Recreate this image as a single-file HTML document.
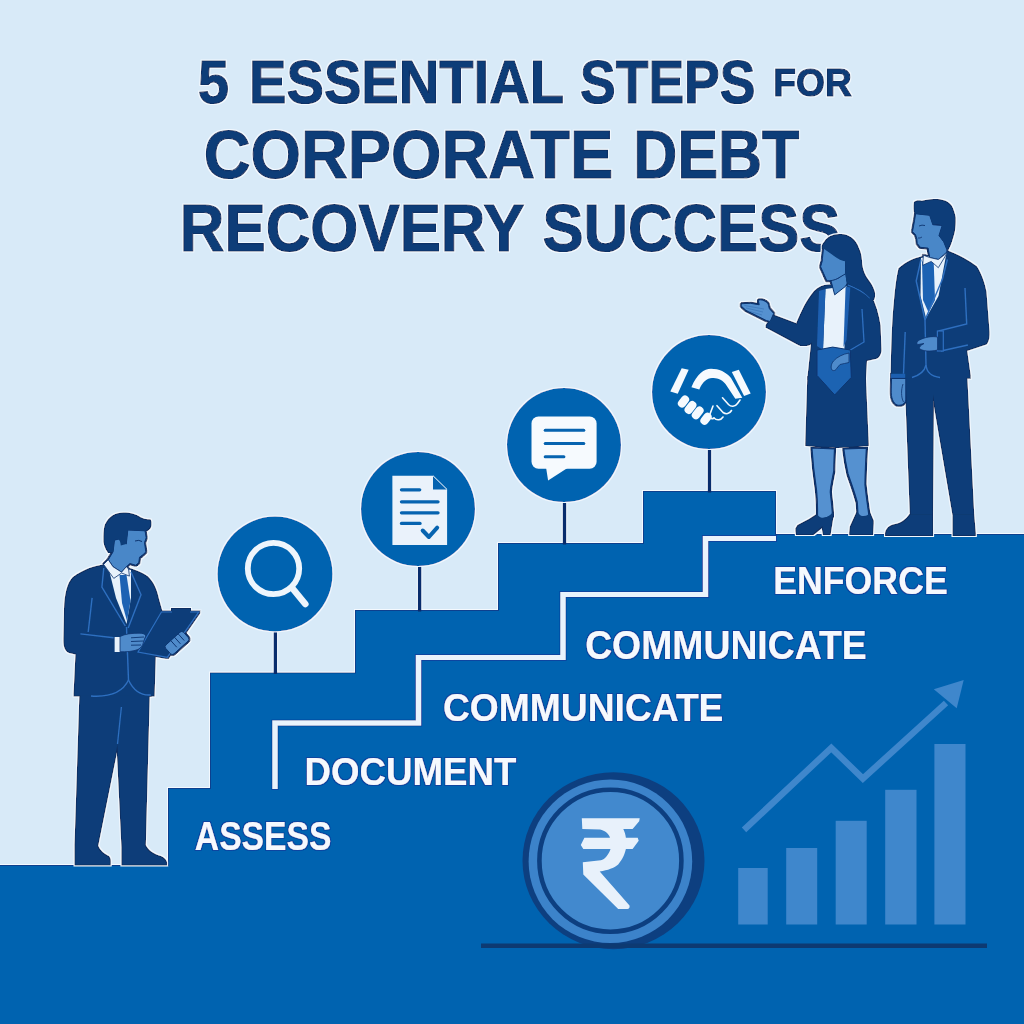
<!DOCTYPE html>
<html><head><meta charset="utf-8">
<style>
html,body{margin:0;padding:0;background:#d8eaf8;}
body{width:1024px;height:1024px;overflow:hidden;position:relative;}
svg{position:absolute;left:0;top:0;display:block;}
text{font-family:"Liberation Sans",sans-serif;font-weight:bold;}
</style></head>
<body>
<svg width="1024" height="1024" viewBox="0 0 1024 1024">
<defs>
<filter id="halo" x="-20%" y="-20%" width="140%" height="140%">
<feMorphology in="SourceAlpha" operator="dilate" radius="1.7" result="d1"/>
<feFlood flood-color="#f2f8fe" result="f1"/>
<feComposite in="f1" in2="d1" operator="in" result="w"/>
<feMorphology in="SourceAlpha" operator="dilate" radius="0.6" result="d2"/>
<feFlood flood-color="#0a2e62" result="f2"/>
<feComposite in="f2" in2="d2" operator="in" result="k"/>
<feMerge><feMergeNode in="w"/><feMergeNode in="k"/><feMergeNode in="SourceGraphic"/></feMerge>
</filter>
<filter id="halo2" x="-20%" y="-20%" width="140%" height="140%">
<feMorphology in="SourceAlpha" operator="dilate" radius="1.2" result="d1"/>
<feFlood flood-color="#f2f8fe" result="f1"/>
<feComposite in="f1" in2="d1" operator="in" result="w"/>
<feMerge><feMergeNode in="w"/><feMergeNode in="SourceGraphic"/></feMerge>
</filter>
<filter id="halo3" x="-5%" y="-5%" width="110%" height="110%">
<feMorphology in="SourceAlpha" operator="dilate" radius="1.4" result="d1"/>
<feFlood flood-color="#f4f9fe" result="f1"/>
<feComposite in="f1" in2="d1" operator="in" result="w"/>
<feMorphology in="SourceAlpha" operator="erode" radius="0.8" result="e1"/>
<feFlood flood-color="#0a3f8e" result="f2"/>
<feComposite in="f2" in2="SourceAlpha" operator="in" result="k"/>
<feComposite in="SourceGraphic" in2="e1" operator="in" result="inner"/>
<feMerge><feMergeNode in="w"/><feMergeNode in="k"/><feMergeNode in="inner"/></feMerge>
</filter>
<filter id="edge" x="-5%" y="-20%" width="110%" height="140%">
<feMorphology in="SourceAlpha" operator="dilate" radius="0.9" result="d1"/>
<feFlood flood-color="#0845a0" result="f1"/>
<feComposite in="f1" in2="d1" operator="in" result="k"/>
<feMerge><feMergeNode in="k"/><feMergeNode in="SourceGraphic"/></feMerge>
</filter>
</defs>
<rect x="0" y="0" width="1024" height="1024" fill="#d8eaf8"/>

<!-- TITLE -->
<g fill="#0e3c78" stroke="#0a3166" stroke-width="1.2" stroke-linejoin="miter" filter="url(#halo2)">
<text id="w1" x="198.00" y="102.9" font-size="60.3" textLength="31.00" lengthAdjust="spacingAndGlyphs">5</text>
<text id="w2" x="249.00" y="102.9" font-size="60.3" textLength="315.00" lengthAdjust="spacingAndGlyphs">ESSENTIAL</text>
<text id="w3" x="580.00" y="102.9" font-size="60.3" textLength="175.50" lengthAdjust="spacingAndGlyphs">STEPS</text>
<text id="w4" x="773.25" y="96.3" font-size="39.1" textLength="78.50" lengthAdjust="spacingAndGlyphs">FOR</text>
<text id="w5" x="203.80" y="178.1" font-size="68.3" textLength="409.40" lengthAdjust="spacingAndGlyphs">CORPORATE</text>
<text id="w6" x="633.35" y="178.1" font-size="68.3" textLength="166.00" lengthAdjust="spacingAndGlyphs">DEBT</text>
<text id="w7" x="179.80" y="250.9" font-size="67.4" textLength="344.65" lengthAdjust="spacingAndGlyphs">RECOVERY</text>
<text id="w8" x="542.50" y="250.9" font-size="67.4" textLength="297.90" lengthAdjust="spacingAndGlyphs">SUCCESS</text>
</g>

<!-- STAIRS -->
<path d="M-10,865 H168 V788 H210 V672.5 H355 V610 H498 V543 H643 V491 H776 V534 H1034 V1034 H-10 Z" fill="#0663b0" filter="url(#halo3)"/>
<path d="M275,789 V723 H418.5 V657.5 H563 V594.5 H705.5 V538.5 H776" fill="none" stroke="#e9f3fc" stroke-width="5.2" filter="url(#edge)"/>

<!-- STEMS -->
<g stroke="#f4f9fe" stroke-width="5.5">
<line x1="275.4" y1="625" x2="275.4" y2="671.5"/>
<line x1="419.6" y1="560" x2="419.6" y2="609"/>
<line x1="564.5" y1="496" x2="564.5" y2="542"/>
<line x1="709.5" y1="443" x2="709.5" y2="490"/>
</g>
<g stroke="#082c6c" stroke-width="3.3">
<line x1="275.4" y1="625" x2="275.4" y2="674"/>
<line x1="419.6" y1="560" x2="419.6" y2="611.5"/>
<line x1="564.5" y1="496" x2="564.5" y2="544.5"/>
<line x1="709.5" y1="443" x2="709.5" y2="492.5"/>
</g>

<!-- CIRCLES -->
<g fill="#0663b0" filter="url(#halo2)">
<circle cx="275" cy="574" r="57.5"/>
<circle cx="418" cy="509" r="57"/>
<circle cx="564" cy="445" r="57"/>
<circle cx="709" cy="392" r="57"/>
</g>

<!-- LABELS -->
<g fill="#f5f9fe" filter="url(#edge)">
<text id="l1" x="194.85" y="849.8" font-size="41.1" textLength="136.55" lengthAdjust="spacingAndGlyphs">ASSESS</text>
<text id="l2" x="304.55" y="785" font-size="38.9" textLength="211.90" lengthAdjust="spacingAndGlyphs">DOCUMENT</text>
<text id="l3" x="443.00" y="720.9" font-size="38.4" textLength="280.45" lengthAdjust="spacingAndGlyphs">COMMUNICATE</text>
<text id="l4" x="585.15" y="658.8" font-size="41.1" textLength="281.50" lengthAdjust="spacingAndGlyphs">COMMUNICATE</text>
<text id="l5" x="773.20" y="594.1" font-size="38.9" textLength="174.55" lengthAdjust="spacingAndGlyphs">ENFORCE</text>
</g>

<!--ICONS-->
<g id="icon1" fill="none" stroke="#eef5fc" stroke-width="5.8" stroke-linecap="round">
<circle cx="273.5" cy="568.5" r="25.7"/>
<line x1="293" y1="589" x2="305.3" y2="604" stroke-width="6.6"/>
</g>
<g id="icon2">
<path d="M392.4,475.7 H433 L447.1,489.5 V545 H392.4 Z" fill="#eaf2fb"/>
<path d="M433,475.7 V489.5 H447.1 Z" fill="#0663b0"/>
<path d="M433,475.7 L447.1,489.5" stroke="#eaf2fb" stroke-width="1"/>
<g stroke="#0663b0" stroke-width="3.3" stroke-linecap="round" fill="none">
<line x1="401.5" y1="489.8" x2="419.7" y2="489.8"/>
<line x1="401.5" y1="501.8" x2="438" y2="501.8"/>
<line x1="401.5" y1="512.8" x2="438" y2="512.8"/>
<line x1="401.5" y1="523.4" x2="420" y2="523.4"/>
<polyline points="422.7,530.5 428.9,537 437.2,527.7" stroke-width="4" stroke-linejoin="round"/>
</g>
</g>
<g id="icon3">
<rect x="531.5" y="416.5" width="65.1" height="52.3" rx="7" fill="#f6fafe"/>
<path d="M546,467 L548.1,480.4 L567.5,468 Z" fill="#f6fafe"/>
<g stroke="#0663b0" stroke-width="3" stroke-linecap="round">
<line x1="545.2" y1="430.3" x2="583.8" y2="430.3"/>
<line x1="545.2" y1="443.6" x2="583.8" y2="443.6"/>
<line x1="545.2" y1="456.7" x2="563.9" y2="456.7"/>
</g>
</g>
<g id="icon4" fill="#f6fafe">
<path d="M670.3,391.6 L681.7,368.3 L688.7,369.7 L677.7,393.8 Z"/>
<path d="M731.8,371.9 L738.8,369.7 L750.7,393.4 L744.1,396 Z"/>
<path d="M691.4,387.2 C697,374 704,368.8 711,368.8 C719,368.8 726,372 731,378 L742.3,397.8 L735.3,398.7 L725.5,384 C721,378.5 716.5,378 712,378 C707,378 702.5,382 699.3,389.4 Z"/>
<g transform="translate(683.5 401.5) rotate(-52)"><rect x="-6.5" y="-4.1" width="13" height="8.2" rx="4"/></g>
<g transform="translate(690.5 407.5) rotate(-52)"><rect x="-7" y="-4.1" width="14" height="8.2" rx="4"/></g>
<g transform="translate(697.7 412.9) rotate(-52)"><rect x="-7" y="-4.1" width="14" height="8.2" rx="4"/></g>
<g transform="translate(706 418.8) rotate(-52)"><rect x="-6.5" y="-4.1" width="13" height="8.2" rx="4"/></g>
<g fill="none" stroke="#f6fafe" stroke-width="1.6" stroke-linecap="round">
<path d="M722.5,397.8 L728.5,404.5 C731,407 735,407 737.5,403.5 L740,400"/>
<path d="M717,405.7 L723,412.5 C726,414.5 729.5,414 731.5,410.5"/>
<path d="M714,418 C717,421 721,420 723,417"/>
<path d="M713,406 L710,414 C709,417 711,420 714,418"/>
</g>
</g>

<!--PEOPLE-->
<g id="man1" filter="url(#halo)">
<path d="M80.4,694 L148.8,694 L144.8,846 L122.4,846 L117.5,744 L97,846 L75.5,846 Z" fill="#0d3e79"/>
<path d="M121.4,707 L117.5,744" stroke="#2f6fc0" stroke-width="1.3"/>
<path d="M75.5,846 L97,846 C99,852 104,855 108,857 C110,859 110,862 109.7,864.6 L75.5,864.6 Z" fill="#0d3e79"/>
<path d="M122.4,846 L144.8,846 C147,851 153,855 160,857 C164,859 166,861 166.3,864.6 L122.4,864.6 Z" fill="#0d3e79"/>
<path d="M73.6,578.2 C85,570 95,567 103.8,565.5 L130.2,569.5 C138,572 144,575 146.8,577.3 C152,582 156,590 158,600 L161.4,612 L155,650 L153.6,695.4 L74.5,695.4 L76.5,653.4 L70,652 C66,650 64.5,646 64.4,640 L65,610 C65.5,595 68,584 73.6,578.2 Z" fill="#0d3e79"/>
<path d="M108,566 L131,570 L131,598 L126.5,624 L116,598 Z" fill="#e8f2fb"/>
<path d="M119.5,575 L126.5,575 L130.5,601 L127,621 L122,603 Z" fill="#1f62b3"/>
<g fill="none" stroke="#2f6fc0" stroke-width="1.4">
<path d="M103.8,568 L101.9,587 L125.3,626"/>
<path d="M131,572 L141,594.8 L128.2,628"/>
<path d="M126.5,627 L128.5,680 Q136,696 150.7,695"/>
<path d="M91,696 Q120,698 128.5,680"/>
<path d="M80.4,633.9 L113.6,637.8"/>
<path d="M92.1,597.8 L88.2,632"/>
</g>
<path d="M114.6,637 L120,637 L120.5,652 L114.6,652 Z" fill="#e8f2fb"/>
<path d="M161.4,612 L198.6,612 L167.3,657.3 L138,652 L145,640 Z" fill="#0d3e79" stroke="#2f6fc0" stroke-width="1.2"/>
<rect x="172" y="609" width="18" height="4" fill="#0d3e79"/>
<path d="M120,636.5 C125,634 132,633 140,633.2 C145,633.3 146,635.5 145.5,636.5 C145,638 144,640 143.5,642 C143,645 141,648 138,649.5 C133,651.5 126,652 120,651.8 Z" fill="#4f8bcb" stroke="#0c3470" stroke-width="0.8"/>
<g stroke="#0c3470" stroke-width="0.9" fill="none"><path d="M131,637.8 L144,637"/><path d="M131,641.5 L143.5,641"/><path d="M131,645.2 L141,645"/></g>
<g transform="translate(177 643) rotate(-42)"><rect x="-12" y="-6" width="24" height="12" rx="2.5" fill="#4f8bcb" stroke="#0c3470" stroke-width="0.9"/>
<g stroke="#0c3470" stroke-width="0.9"><line x1="-3" y1="-6" x2="-3" y2="3"/><line x1="2" y1="-6" x2="2" y2="3"/><line x1="7" y1="-6" x2="7" y2="3"/></g></g>
<path d="M145,530.8 L146.2,537.8 L144.5,542.5 L145.8,551.9 L142.7,555 L139.5,557.3 L138.75,562.8 L135.6,565.2 L130,563.5 C128,565 127,566 126.25,566.7 L121.6,572.2 L113,566.7 L108.3,559.7 L113,551.9 L114.5,540.2 L120,538.6 L126.25,544 L127.8,530 Z" fill="#4a87c8" stroke="#0c3470" stroke-width="1"/>
<path d="M103.6,564.4 L113.75,578.4 L121.6,573 L129.4,576.1 L128.6,569 L126.25,566.7 L121.6,572.2 L113,566.7 L108.3,559.7 Z" fill="#e8f2fb" stroke="#0c3470" stroke-width="0.8"/>
<path d="M109,551.9 C105.5,547 104,542 104.4,537.8 C104.5,532 105,528 106,525.3 C108,521 110.5,518.5 113,516.7 C116.5,514.5 120.5,513.6 124.7,513.6 C128.5,513.6 132,514.5 135.6,516 C138.5,517.5 141,519 143.4,519.8 C146,520.3 148,520.2 149.7,520.6 C150.8,522.5 150.8,525 149.7,526.9 C148.5,528.5 146.8,530 145,530.8 L127.8,530 L126.25,544 L120.8,545.6 C120.5,542 119.8,539.8 118.4,539.4 C116.5,538.8 115,539.5 114.5,540.2 C113.5,543 113.5,546 113.75,548.75 L113,551.9 Z" fill="#0d3e79"/>
<path d="M135,541 Q139,539.5 142,541.5" fill="none" stroke="#0c3470" stroke-width="1"/>
<path d="M139.5,557.3 Q141,556.5 142,555.5" fill="none" stroke="#0c3470" stroke-width="0.8"/>
</g>

<g id="woman" filter="url(#halo)">
<path d="M811.9,448 L834.5,448.9 C834,460 833.8,470 833.8,470.8 C832,480 830.3,488 830.3,492.1 C831,500 832.4,508 832.4,516 L817.5,520 L817.5,509 C817.5,500 817,496 816.5,490 C815,480 813,465 811.9,448 Z" fill="#5591d0" stroke="#0c3470" stroke-width="1.2"/>
<path d="M843.8,448.9 L866.4,448.2 C865.5,465 865,480 865,485 C866,495 867.5,505 869,516 L858,517 C857.8,510 857.5,505 857.2,502 C854,490 850,480 848,473.7 C846,465 844.5,455 843.8,448.9 Z" fill="#5591d0" stroke="#0c3470" stroke-width="1.2"/>
<path d="M833.1,512 C828,518 822,520 817.5,515 L809.8,520 L798.4,526.1 L796.3,529.6 L797,533.9 L812.6,533.9 L822.5,526.1 L823.9,533.9 L829.6,533.9 Z" fill="#0d3e79"/>
<path d="M857.8,512 C860,517 865,518 869.3,513.5 L872.8,521.8 L872.1,533.9 L850.1,533.9 L850.8,527.5 Z" fill="#0d3e79"/>
<path d="M808.3,377 L864.9,377 L867.8,445 Q837,449 806.2,445 Z" fill="#0d3e79"/>
<path d="M828.8,285.6 L848.3,284.6 C856,287 864,291 869.8,295.3 C875,305 878,316 879.6,326.6 L880.5,350 C880,354 878,357 875.7,357.8 L866,360 L864.9,379.3 L808.3,379.3 L812.2,342.2 C808,345 803,346 799.5,344.2 L766.3,326.6 L773.1,315.8 L797,324.8 C802,312 808,300 815,292 C819,288 824,286 828.8,285.6 Z" fill="#0d3e79"/>
<path d="M825.5,289 L846.5,286 L844.4,350 L823,350 Z" fill="#e8f2fb"/>
<path d="M819,291 L825.5,289 L823,350 L817,346 Z" fill="#1f5fb0"/>
<path d="M845.6,286.5 L850.3,287.5 L846.5,340 L843.5,347 Z" fill="#1f5fb0"/>
<g fill="none" stroke="#2f6fc0" stroke-width="1.3">
<path d="M862,309 L864,342 L847,352"/>
<path d="M848,285 C856,288 864,292 870,298"/>
</g>
<path d="M817,350 L832.7,347.1 L850.3,350 L851.3,377.4 L834.7,395 L817,375.4 Z" fill="#1d64b2" stroke="#0c3470" stroke-width="1"/>
<path d="M849,353 C843,354 837,357 833.5,361 C831,364 830.5,368 832,370 C834,371.5 836,370 837,368 L840,364.5 C843,364 846,363 849,362.5 Z" fill="#4f8bcb" stroke="#0c3470" stroke-width="0.8"/>
<path d="M773.7,313.4 L769.4,308.75 C768.5,306 768.5,304.5 767.8,303.3 C766,301.5 763,300 760.8,299.8 C759.5,299.8 758.3,300.2 758.4,300.9 L759.2,304.8 L750.6,303.3 L742,303.7 C741,304.5 741,305.8 741.6,306.4 L745.9,310.3 L756.9,315.8 L766.25,320.5 L770.2,321.5 Z" fill="#5591d0" stroke="#0c3470" stroke-width="1" stroke-linejoin="round"/>
<g stroke="#3a74b8" stroke-width="0.7" fill="none"><path d="M744.5,305.5 L764,309"/><path d="M746,308 L763,312"/><path d="M748.5,311 L762,315"/></g>
<path d="M830.8,280 L837.8,278.4 L845.6,272.5 L847.2,283.1 L845.6,286.25 L834.7,294.8 Z" fill="#4a87c8" stroke="#0c3470" stroke-width="1"/>
<path d="M823.75,247.2 C823,252 822.5,258 822.2,261.25 L820.6,266.7 L823.75,273.75 L826.9,280.8 C831,281 835,280 837.8,278.4 L845.6,273.75 L845.6,261.25 C840,258 833,254 828.4,249 Z" fill="#4a87c8" stroke="#0c3470" stroke-width="1"/>
<path d="M840.2,235.1 C834,235 828,238 825.3,242.5 C823,245 822.6,247 822.6,248 C826,250 830,253 834,256 C838,259 842,261 845.6,261.25 L845.6,273.75 C846,280 847,283 847.2,283.1 C852,286 856,288 859.7,289.4 C865,293 869,297 872.2,300.3 C874,298 874.5,295 873.75,292.5 C872,287 870,284 867.5,280.8 C864,276 862,271 861.25,265.2 C861,258 860,253 858.1,249.5 C855,240 848,235.5 840.2,235.1 Z" fill="#0d3e79"/>
</g>

<g id="man2" filter="url(#halo)">
<path d="M905.6,377 L966.3,377 L973.2,514.4 L953.5,514.4 L933,394 L932.1,514.4 L910.8,514.4 Z" fill="#0d3e79"/>
<path d="M910.8,514.4 L932.1,514.4 L932.1,535 L886,535 C886,530 890,526 896,525 C902,524 907,520 910.8,514.4 Z" fill="#0d3e79"/>
<path d="M953.5,514.4 L973.2,514.4 L974.9,535 L953.5,535 Z" fill="#0d3e79"/>
<path d="M899.5,269.3 C908,262 915,259 922,257.5 L947.4,251.7 C958,256 968,261 975.8,267.3 C981,275 984,285 985.5,292.7 L988.5,331.8 C989,338 987,342 985.5,343.5 L966,350 L969.9,377.7 L891.7,377.7 C892,350 893,320 894.7,304.4 C896,290 897,280 899.5,269.3 Z" fill="#0d3e79"/>
<path d="M921,258 L946.5,253 L938.5,296 L926,318 L920.5,296 Z" fill="#e8f2fb"/>
<path d="M922,261.4 L933.7,261.4 L935,300 L928.5,312.3 L923,300 Z" fill="#1f62b3"/>
<g fill="none" stroke="#2f6fc0" stroke-width="1.4">
<path d="M921,259.5 L916.2,281 L925,320"/>
<path d="M947.4,259.5 L942.5,279 L925,320"/>
<path d="M925,320 L926,365 Q927,376 940,377.5"/>
<path d="M912,377.5 Q924,374 926,365"/>
<path d="M965,288 L966.7,324 L938.6,331"/>
<path d="M940.9,351 L967.9,345"/>
<path d="M905.2,332 L903.5,373.8"/>
</g>
<rect x="937.4" y="331" width="5.9" height="20" fill="#0d3e79" stroke="#2f6fc0" stroke-width="1.2"/>
<path d="M937.5,337 C932,336 925,337 919.5,340 C916.5,341.5 916,344 918,344.5 L924,343.5 C920,345.5 918.5,348 920,349 C923,351 930,352 937.5,350 Z" fill="#4f8bcb" stroke="#0c3470" stroke-width="0.8"/>
<rect x="891.1" y="373.8" width="14.1" height="4.1" fill="#1f5fb0"/>
<path d="M891.5,378.5 L905.8,378.5 L905.8,400 C905,404 901,406 897,405 C893,403 891,398 891.2,390 Z" fill="#4f8bcb" stroke="#0c3470" stroke-width="1"/>
<path d="M903,384 C901,390 901,397 903.5,402" fill="none" stroke="#0c3470" stroke-width="0.8"/>
<path d="M915.6,213.75 L914.5,220.8 L912.9,229.4 L912.5,231.7 L915.6,234.8 L916.8,238.75 L917.2,243.4 L920.3,247.3 L928.1,248.1 L929.7,257.5 L938.3,259.5 L946.9,252 L946.9,249.7 L943.75,241.9 L939,235.6 L942.2,225.5 L932.8,224.7 L929.7,215.3 Z" fill="#4a87c8" stroke="#0c3470" stroke-width="1"/>
<path d="M923.4,255.2 L922.7,265.3 L931.25,261.4 L938.3,267.7 L947.5,252.5 L938.3,259.5 L929.7,257.5 Z" fill="#e8f2fb" stroke="#0c3470" stroke-width="0.8"/>
<path d="M918.75,201.25 C916.5,201.8 915,202.5 914.8,203.6 C914.5,206 914.5,208.5 914.8,210.6 L915.6,213.75 L929.7,215.3 L932.8,224.7 C936,224 939.5,224.5 942.2,225.5 C941.5,229 940,232.5 939,235.6 C940.5,238 942,240 943.75,241.9 C945,244.5 946,247 946.9,249.7 C948,248 949,245.5 950,243.4 C951.5,239 953,234.5 953.9,230.2 C954.5,226 954.8,222 954.7,218.4 C954,214 952.5,210 950.8,206.7 C948.5,203.8 946,202 943,201.25 C940,200.5 937,200 934.4,200.1 C930,200.3 926,201 921.9,202 Z" fill="#0d3e79"/>
<path d="M919,226 Q922,224.5 925,225.5" fill="none" stroke="#0c3470" stroke-width="0.9"/>
<path d="M918,238 Q920,238.5 922,237" fill="none" stroke="#0c3470" stroke-width="0.8"/>
</g>


<!--CHART-->
<g id="coin">
<ellipse cx="613.5" cy="860.7" rx="91" ry="88.5" fill="#0d3f80"/>
<circle cx="610.4" cy="861.3" r="81.8" fill="#3c83ca"/>
<circle cx="610.4" cy="860.7" r="71" fill="#4289ce" stroke="#0d3f80" stroke-width="4.6"/>
<path d="M581.8,818.2 L639.7,818.2 L639.2,821.3 L632.6,829 L623.3,829 C624.5,831.5 625.5,834.5 625.9,837.7 L637.7,837.7 L638.7,840.8 L632.6,849 L625.9,849 C625,853 623,859 618.2,864.4 C614,868 608,870 599.7,871.5 L629.5,905.4 C630,907.5 629,909 627.4,909 L618.2,909 L583.3,874.6 L582.8,862.3 L600.8,860.3 C605,859.5 609,854 610.5,849 L583.3,849 L580.8,844.9 L584.4,837.7 L610,837.7 C609,834 605,830.5 600,829.5 L582.3,829 Z" fill="#e8f1fb"/>
</g>
<g id="chart" fill="#3f87cc">
<rect x="738.2" y="868" width="29.5" height="56.5"/>
<rect x="786.2" y="848" width="31" height="76.5"/>
<rect x="835.7" y="820.8" width="31" height="103.7"/>
<rect x="885.2" y="789.8" width="31.3" height="134.7"/>
<rect x="934.4" y="744" width="31.1" height="180.5"/>
<polyline points="744,829.9 831.3,747.9 862.9,778.6 946,703" fill="none" stroke="#3f87cc" stroke-width="6.4"/>
<path d="M933.8,689.3 L963.7,679.9 L956.7,708.3 Z"/>
</g>
<rect x="481" y="943.5" width="506" height="4.5" fill="#0d3a72"/>


</svg>
</body></html>
